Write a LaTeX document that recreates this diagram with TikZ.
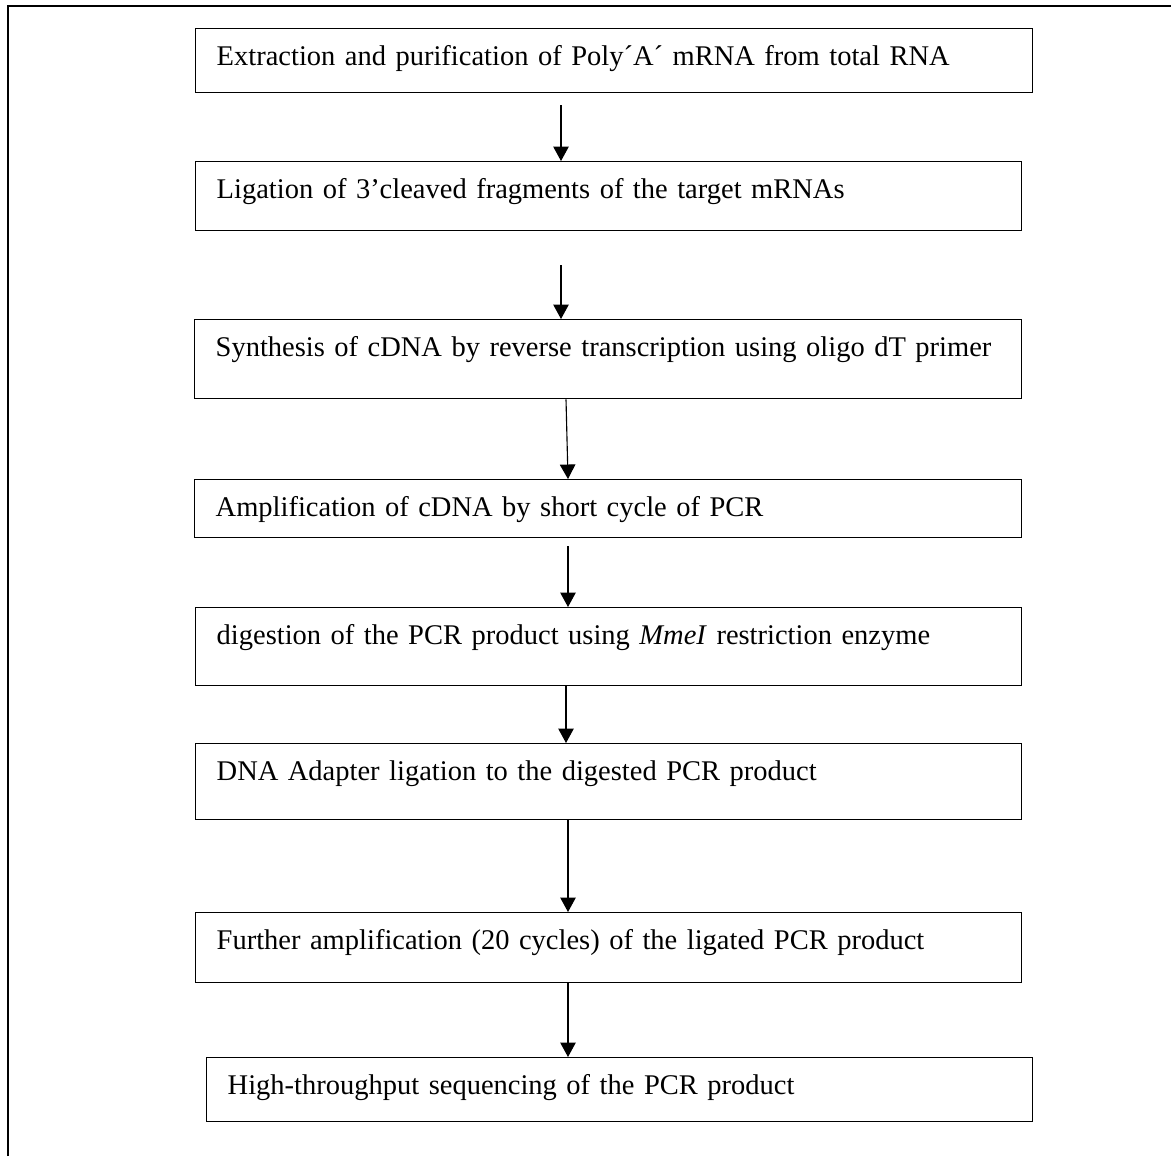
\documentclass[tikz,border=0pt]{standalone}
\usepackage{fontspec}
\setmainfont{Liberation Serif}
\usetikzlibrary{arrows.meta}

\tikzset{
    stepbox/.style={draw, line width=0.55pt, anchor=north west, align=left,
        inner xsep=8.4pt, inner ysep=0pt, text height=14.8pt,
        font=\fontsize{11.4}{13.5}\selectfont},
    flow/.style={-{Triangle[length=5.8pt,width=6.2pt]}, line width=0.45pt}
}

\begin{document}
\begin{tikzpicture}[x=0.4pt, y=-0.4pt]
            \useasboundingbox (0,0) rectangle (1171,1156);
            \draw[line width=0.55pt] (8,1156) -- (8,6) -- (1171,6);
            % steps
            \node[stepbox, text width=318pt, text depth=10.8pt] (extract) at (195,28) {Extraction and purification of Poly´A´ mRNA from total RNA};
            \node[stepbox, text width=313.6pt, text depth=12.8pt] (ligate) at (195,161) {Ligation of 3’cleaved fragments of the target mRNAs};
            \node[stepbox, text width=314pt, text depth=16.8pt] (synth) at (194,319) {Synthesis of cDNA by reverse transcription using oligo dT primer};
            \node[stepbox, text width=314pt, text depth=8.4pt] (amplify) at (194,479) {Amplification of cDNA by short cycle of PCR};
            \node[stepbox, text width=313.6pt, text depth=16.4pt] (digest) at (195,607) {digestion of the PCR product using \textit{MmeI} restriction enzyme};
            \node[stepbox, text width=313.6pt, text depth=15.6pt] (adapter) at (195,743) {DNA Adapter ligation to the digested PCR product};
            \node[stepbox, text width=313.6pt, text depth=13.2pt] (further) at (195,912) {Further amplification (20 cycles) of the ligated PCR product};
            \node[stepbox, text width=313.6pt, text depth=10.8pt] (hts) at (206,1057) {High-throughput sequencing of the PCR product};
            % arrows
            \coordinate (s1) at (561,105);
            \coordinate (s2) at (561,265);
            \coordinate (s4) at (568,546);
            \coordinate (xa) at (566,0);
            \coordinate (xb) at (568,0);
            \draw[flow] (s1) -- (s1 |- ligate.north);
            \draw[flow] (s2) -- (s2 |- synth.north);
            \draw[flow] (synth.south -| xa) -- (amplify.north -| xb);
            \draw[flow] (s4) -- (s4 |- digest.north);
            \draw[flow] (digest.south -| xa) -- (adapter.north -| xa);
            \draw[flow] (adapter.south -| xb) -- (further.north -| xb);
            \draw[flow] (further.south -| xb) -- (hts.north -| xb);
        \end{tikzpicture}
\end{document}
